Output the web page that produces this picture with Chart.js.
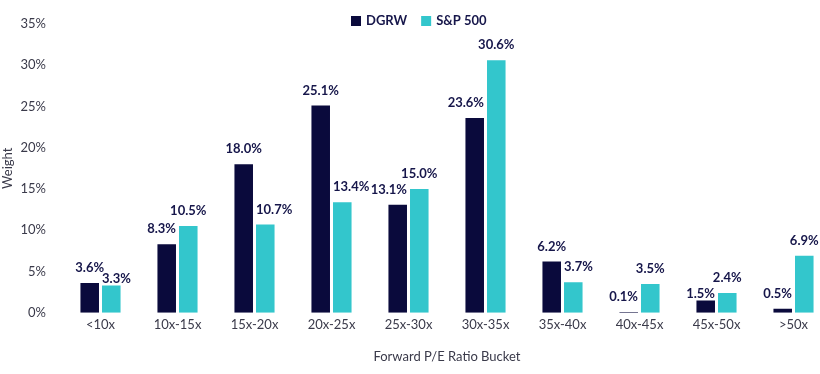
<!DOCTYPE html>
<html>
<head>
<meta charset="utf-8">
<script src="https://cdn.jsdelivr.net/npm/chart.js@4.4.1/dist/chart.umd.min.js"></script>
<style>
  html, body { margin: 0; padding: 0; background: #fff; overflow: hidden; }
  #wrap { width: 832px; height: 374px; }
</style>
</head>
<body>
<div id="wrap"><canvas id="peChart"></canvas></div>
<script>
const buckets = ['<10x', '10x-15x', '15x-20x', '20x-25x', '25x-30x', '30x-35x', '35x-40x', '40x-45x', '45x-50x', '>50x'];
const dgrw = [3.6, 8.3, 18.0, 25.1, 13.1, 23.6, 6.2, 0.1, 1.5, 0.5];
const sp500 = [3.3, 10.5, 10.7, 13.4, 15.0, 30.6, 3.7, 3.5, 2.4, 6.9];
const yTicks = [0, 5, 10, 15, 20, 25, 30, 35];

const navy = '#0a0a3c';
const teal = '#33c6cc';
const textColor = '#3a3a4a';
const labelColor = '#16164a';

// value labels: centered, but pushed to the inner edge when the other bar is taller
const barLabels = {
    id: 'barLabels',
    afterDatasetsDraw(chart) {
        const ctx = chart.ctx;
        ctx.save();
        ctx.font = 'bold 13px Lato';
        ctx.fillStyle = labelColor;
        ctx.textBaseline = 'middle';
        ctx.textAlign = 'left';
        const a = chart.getDatasetMeta(0).data;
        const b = chart.getDatasetMeta(1).data;
        const vals = chart.data.datasets.map(d => d.data);
        a.forEach((barA, j) => {
            const items = [barA, b[j]].map((bar, k) => {
                const txt = vals[k][j].toFixed(1) + '%';
                const w = ctx.measureText(txt).width;
                const half = bar.width / 2;
                let x = bar.x - w / 2;
                if (k === 0 && vals[1][j] > vals[0][j]) x = bar.x + half - w;
                if (k === 1 && vals[0][j] > vals[1][j]) x = bar.x - half;
                return { txt, x, w, y: bar.y - 15, top: bar.y };
            });
            const [la, lb] = items;
            if (la.x + la.w > lb.x - 1 && Math.abs(la.y - lb.y) < 13) {
                const low = la.top > lb.top ? la : lb;
                low.y = low.top - 7;
            }
            items.forEach(it => ctx.fillText(it.txt, it.x, it.y));
        });
        ctx.restore();
    }
};

// legend drawn near the top, floating over the plot
const topLegend = {
    id: 'topLegend',
    afterDraw(chart) {
        const ctx = chart.ctx;
        ctx.save();
        ctx.font = 'bold 13px Lato';
        ctx.textBaseline = 'middle';
        let x = 351;
        const y = 21;
        chart.data.datasets.forEach(ds => {
            ctx.fillStyle = ds.backgroundColor;
            ctx.fillRect(x, y - 5, 10, 10);
            ctx.fillStyle = labelColor;
            ctx.fillText(ds.label, x + 15, y);
            x += 15 + ctx.measureText(ds.label).width + 14;
        });
        ctx.restore();
    }
};

new Chart(document.getElementById('peChart'), {
    type: 'bar',
    data: {
        labels: buckets,
        datasets: [
            { label: 'DGRW', data: dgrw, backgroundColor: navy },
            { label: 'S&P 500', data: sp500, backgroundColor: teal }
        ]
    },
    options: {
        responsive: true,
        maintainAspectRatio: false,
        animation: false,
        categoryPercentage: 0.56,
        barPercentage: 0.86,
        layout: { padding: { top: 0, right: 0, bottom: 9, left: 0 } },
        plugins: {
            tooltip: { enabled: false },
            legend: { display: false }
        },
        scales: {
            x: {
                grid: { display: false, drawTicks: false },
                border: { display: false },
                ticks: { color: textColor, font: { family: 'Lato', size: 13 }, padding: 4 },
                title: {
                    display: true,
                    text: 'Forward P/E Ratio Bucket',
                    color: textColor,
                    font: { family: 'Lato', size: 13 },
                    padding: { top: 13, bottom: 0 }
                }
            },
            y: {
                min: 0,
                max: 35,
                grid: { display: false, drawTicks: false },
                border: { display: false },
                afterBuildTicks(axis) {
                    axis.ticks = yTicks.map(v => ({ value: v }));
                },
                afterFit(axis) {
                    axis.width = 62;
                },
                ticks: {
                    color: textColor,
                    font: { family: 'Lato', size: 13 },
                    padding: 16,
                    callback: v => v + '%'
                },
                title: {
                    display: true,
                    text: 'Weight',
                    color: textColor,
                    font: { family: 'Lato', size: 13 },
                    padding: { top: 0, bottom: 4 }
                }
            }
        }
    },
    plugins: [barLabels, topLegend]
});
</script>
</body>
</html>
